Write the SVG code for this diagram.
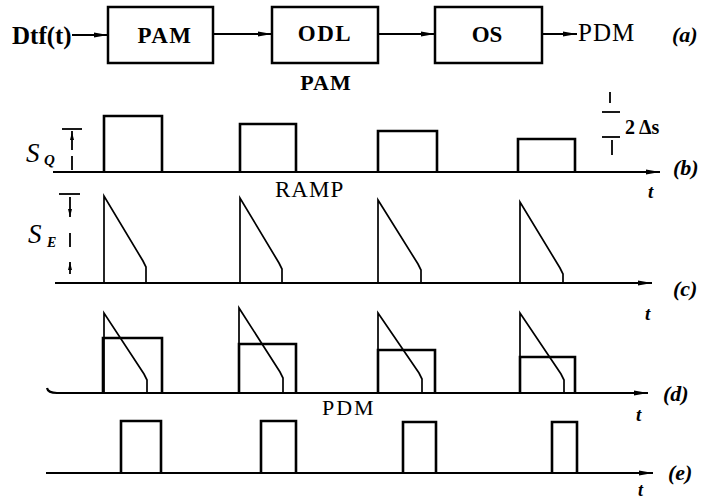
<svg xmlns="http://www.w3.org/2000/svg" width="704" height="502" viewBox="0 0 704 502">
<defs>
<marker id="ah" viewBox="0 0 14 6" refX="14" refY="3" markerWidth="14" markerHeight="6" markerUnits="userSpaceOnUse" orient="auto"><path d="M0,0.6 L14,3 L0,5.4 Z" fill="#000"/></marker>
<style>
.box{fill:#fff;stroke:#000;stroke-width:2.5}
.conn{stroke:#000;stroke-width:2;fill:none}
.axis{stroke:#000;stroke-width:2.2;fill:none}
.pulse{stroke:#000;stroke-width:2.6;fill:none}
.ramp{stroke:#000;stroke-width:1.7;fill:none}
.dim{stroke:#000;stroke-width:1.8;fill:none}
.sf{font-family:'Liberation Serif',serif}
.b{font-weight:bold}
.i{font-style:italic}
</style>
</defs>
<rect width="704" height="502" fill="#fff"/>

<text class="sf b" x="12" y="44" style="font-size:25px">Dtf(t)</text>
<g id="pam"><rect class="box" x="108" y="7" width="105" height="56"/><text class="sf b" x="165" y="43" text-anchor="middle" style="font-size:23px;letter-spacing:1.5px">PAM</text></g>
<g id="odl"><rect class="box" x="272" y="7" width="106" height="56"/><text class="sf b" x="325" y="41" text-anchor="middle" style="font-size:23px;letter-spacing:1.5px">ODL</text></g>
<g id="os"><rect class="box" x="435" y="7" width="107" height="56"/><text class="sf b" x="487" y="42" text-anchor="middle" style="font-size:23px">OS</text></g>
<text class="sf" x="578" y="41" style="font-size:25px;letter-spacing:1px">PDM</text>
<text class="sf b i" x="672" y="42" style="font-size:22px">(a)</text>
<g id="connectors">
<line class="conn" x1="72" y1="35" x2="108" y2="35" marker-end="url(#ah)"/>
<line class="conn" x1="213" y1="34" x2="272" y2="34" marker-end="url(#ah)"/>
<line class="conn" x1="378" y1="34" x2="435" y2="34" marker-end="url(#ah)"/>
<line class="conn" x1="542" y1="34" x2="577" y2="34" marker-end="url(#ah)"/>
</g>
<text class="sf b" x="326" y="90" text-anchor="middle" style="font-size:22px;letter-spacing:1px">PAM</text>

<!-- (b) -->
<g id="wave-b">
<line class="axis" x1="53" y1="172" x2="660" y2="172" marker-end="url(#ah)"/>
<path class="pulse" d="M104,172 V116 H162 V172"/>
<path class="pulse" d="M240,172 V124 H296 V172"/>
<path class="pulse" d="M378,172 V131 H437 V172"/>
<path class="pulse" d="M518,172 V139 H575 V172"/>
<text class="sf b i" x="673" y="175" style="font-size:22px">(b)</text>
<text class="sf b i" x="648" y="198" style="font-size:19px">t</text>
<text class="sf i" x="26" y="162" style="font-size:27px">S</text>
<text class="sf i b" x="44" y="165" style="font-size:15px">Q</text>
<line class="dim" x1="62" y1="129" x2="82" y2="129"/>
<path class="dim" d="M72,131 V150 M72,156 V170"/>
<path d="M72,132 L70,140 L74,140 Z"/>
<line class="dim" x1="610" y1="92" x2="610" y2="103"/>
<line class="dim" x1="602" y1="112" x2="620" y2="112"/>
<line class="dim" x1="602" y1="137" x2="620" y2="137"/>
<line class="dim" x1="612" y1="140" x2="612" y2="155"/>
<text class="sf b" x="625" y="134" style="font-size:20px">2 Δs</text>
</g>

<text class="sf" x="275" y="197" style="font-size:23px;letter-spacing:1px">RAMP</text>

<!-- (c) -->
<g id="wave-c">
<line class="axis" x1="55" y1="283" x2="652" y2="283" marker-end="url(#ah)"/>
<path class="ramp" d="M104,283 V196 L143,261 L146,267 V283"/>
<path class="ramp" d="M240,283 V198 L279,263 L282,269 V283"/>
<path class="ramp" d="M378,283 V200 L418,264 L421,270 V283"/>
<path class="ramp" d="M520,283 V202 L560,268 L563,274 V283"/>
<text class="sf b i" x="673" y="296" style="font-size:22px">(c)</text>
<text class="sf b i" x="645" y="320" style="font-size:19px">t</text>
<text class="sf i" x="28" y="243" style="font-size:27px">S</text>
<text class="sf i b" x="47" y="247" style="font-size:14px">E</text>
<line class="dim" x1="59" y1="194" x2="80" y2="194"/>
<path class="dim" d="M70,197 V217 M70,233 V247 M70,262 V274"/>
<path d="M70,217 L68,209 L72,209 Z"/>
<path d="M70,262 L68,270 L72,270 Z"/>
</g>

<!-- (d) -->
<g id="wave-d">
<path class="axis" d="M47,388 Q48,393 57,393 L648,393" marker-end="url(#ah)"/>
<path class="pulse" d="M103,393 V338 H162 V393"/>
<path class="ramp" d="M104,393 V313 L144,374 L147,380 V393"/>
<path class="pulse" d="M239,393 V344 H296 V393"/>
<path class="ramp" d="M239,393 V308 L280,372 L283,378 V393"/>
<path class="pulse" d="M378,393 V350 H435 V393"/>
<path class="ramp" d="M378,393 V313 L419,373 L422,379 V393"/>
<path class="pulse" d="M520,393 V357 H575 V393"/>
<path class="ramp" d="M520,393 V313 L561,374 L564,380 V393"/>
<text class="sf b i" x="663" y="401" style="font-size:22px">(d)</text>
<text class="sf b i" x="636" y="421" style="font-size:19px">t</text>
</g>

<text class="sf" x="322" y="415" style="font-size:22px;letter-spacing:2px">PDM</text>

<!-- (e) -->
<g id="wave-e">
<line class="axis" x1="46" y1="473" x2="653" y2="473" marker-end="url(#ah)"/>
<path class="pulse" d="M121,473 V421 H161 V473"/>
<path class="pulse" d="M261,473 V421 H296 V473"/>
<path class="pulse" d="M403,473 V422 H436 V473"/>
<path class="pulse" d="M552,473 V422 H577 V473"/>
<text class="sf b i" x="668" y="480" style="font-size:22px">(e)</text>
<text class="sf b i" x="638" y="496" style="font-size:18px">t</text>
</g>
</svg>
